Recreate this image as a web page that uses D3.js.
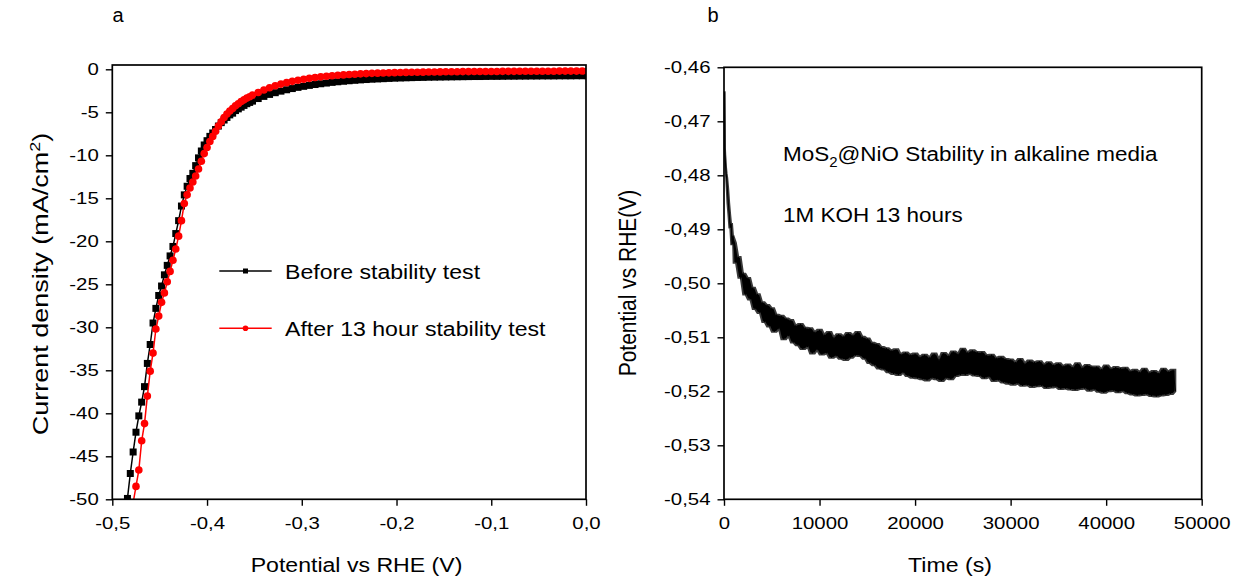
<!DOCTYPE html>
<html>
<head>
<meta charset="utf-8">
<script src="https://cdn.jsdelivr.net/npm/d3@7"></script>
<style>
body { margin: 0; background: #fff; }
svg text { font-family: "Liberation Sans", Arial, sans-serif; fill: #000; }
</style>
</head>
<body>
<svg id="fig" width="1245" height="588"></svg>
<script>
// ---- panel a : polarisation curves ----
var sweepPotential = [
  -0.487, -0.484, -0.481, -0.478, -0.475, -0.472, -0.469, -0.466, -0.463, -0.460,
  -0.457, -0.454, -0.451, -0.448, -0.445, -0.442, -0.439, -0.436, -0.433, -0.430,
  -0.427, -0.424, -0.421, -0.418, -0.415, -0.412, -0.409, -0.406, -0.403, -0.400,
  -0.397, -0.394, -0.391, -0.388, -0.385, -0.382, -0.379, -0.376, -0.373, -0.370,
  -0.367, -0.364, -0.361, -0.358, -0.355, -0.352,
  -0.346, -0.340, -0.334, -0.328, -0.322, -0.316, -0.310, -0.304, -0.298, -0.292,
  -0.286, -0.280, -0.274, -0.268, -0.262, -0.256, -0.250, -0.244, -0.238, -0.232,
  -0.226, -0.220, -0.214, -0.208, -0.202, -0.196, -0.190, -0.184, -0.178, -0.172,
  -0.166, -0.160, -0.154, -0.148, -0.142, -0.136, -0.130, -0.124, -0.118, -0.112,
  -0.106, -0.100, -0.094, -0.088, -0.082, -0.076, -0.070, -0.064, -0.058, -0.052,
  -0.046, -0.040, -0.034, -0.028, -0.022, -0.016, -0.010, -0.004, 0.002
];
var currentBefore = [
  -52.8, -49.9, -47.0, -44.5, -42.2, -40.3, -38.7, -36.9, -34.2, -32.0,
  -29.5, -27.8, -26.3, -25.2, -23.9, -22.8, -21.7, -20.6, -19.1, -17.6,
  -15.9, -14.6, -13.6, -12.7, -12.1, -11.2, -10.3, -9.5, -8.8, -8.3,
  -7.8, -7.4, -7.0, -6.6, -6.2, -5.9, -5.6, -5.3, -5.1, -4.8,
  -4.6, -4.4, -4.2, -4.0, -3.85, -3.7,
  -3.4, -3.15, -2.92, -2.72, -2.54, -2.38, -2.24, -2.1, -1.98, -1.87,
  -1.77, -1.68, -1.6, -1.52, -1.45, -1.39, -1.33, -1.28, -1.23, -1.19,
  -1.15, -1.12, -1.09, -1.06, -1.03, -1.01, -0.99, -0.97, -0.95, -0.94,
  -0.92, -0.91, -0.9, -0.89, -0.88, -0.87, -0.86, -0.85, -0.84, -0.84,
  -0.83, -0.82, -0.82, -0.81, -0.8, -0.8, -0.79, -0.79, -0.78, -0.78,
  -0.77, -0.77, -0.77, -0.76, -0.76, -0.76, -0.75, -0.75, -0.75
];
var currentAfter = [
  -58.0, -55.5, -53.0, -50.4, -48.5, -46.6, -43.2, -41.2, -38.0, -35.1,
  -33.0, -30.2, -28.7, -27.1, -26.0, -24.7, -23.5, -22.2, -20.9, -19.4,
  -17.6, -15.6, -14.6, -13.8, -13.1, -12.4, -11.6, -10.7, -9.8, -9.1,
  -8.4, -7.8, -7.2, -6.6, -6.1, -5.6, -5.2, -4.85, -4.55, -4.25,
  -4.0, -3.75, -3.55, -3.35, -3.2, -3.0,
  -2.7, -2.4, -2.14, -1.92, -1.72, -1.55, -1.4, -1.27, -1.15, -1.05,
  -0.96, -0.88, -0.81, -0.75, -0.7, -0.65, -0.61, -0.57, -0.53, -0.5,
  -0.47, -0.45, -0.43, -0.41, -0.39, -0.37, -0.36, -0.35, -0.34, -0.33,
  -0.32, -0.31, -0.3, -0.29, -0.29, -0.28, -0.27, -0.27, -0.26, -0.26,
  -0.25, -0.25, -0.25, -0.24, -0.24, -0.24, -0.23, -0.23, -0.23, -0.22,
  -0.22, -0.22, -0.22, -0.21, -0.21, -0.21, -0.21, -0.2, -0.2
];
var seriesNames = ["Before stability test", "After 13 hour stability test"];
var potentialTicks = [-0.5, -0.4, -0.3, -0.2, -0.1, 0.0];
var currentTicks = [0, -5, -10, -15, -20, -25, -30, -35, -40, -45, -50];

// ---- panel b : chronopotentiometry ----
var earlyTime = [60, 75, 90, 110, 140, 180, 220, 280, 350, 450, 550, 650, 750, 850, 950];
var earlyPotential = [-0.4646, -0.4690, -0.4750, -0.4762, -0.4772, -0.4785, -0.4796, -0.4805,
  -0.4825, -0.4851, -0.4872, -0.4897, -0.4890, -0.4928, -0.4912];
var traceStart = 1000, traceStep = 250;   // seconds, logger interval
var tracePotential = [
  -0.4925, -0.4962, -0.4951, -0.4990,  -0.4982, -0.5021, -0.4990, -0.5030,
  -0.5008, -0.5048, -0.5020, -0.5055,  -0.5035, -0.5072, -0.5040, -0.5080,
  -0.5046, -0.5090, -0.5058, -0.5085,  -0.5060, -0.5104, -0.5065, -0.5098,
  -0.5068, -0.5110, -0.5078, -0.5115,  -0.5075, -0.5122, -0.5082, -0.5118,
  -0.5083, -0.5130, -0.5090, -0.5124,  -0.5086, -0.5132, -0.5095, -0.5130,
  -0.5090, -0.5138, -0.5100, -0.5135,  -0.5094, -0.5140, -0.5098, -0.5142,
  -0.5092, -0.5138, -0.5096, -0.5134,  -0.5090, -0.5135, -0.5099, -0.5140,
  -0.5102, -0.5148, -0.5110, -0.5152,  -0.5112, -0.5158, -0.5118, -0.5160,
  -0.5120, -0.5165, -0.5124, -0.5168,  -0.5122, -0.5170, -0.5131, -0.5166,
  -0.5128, -0.5172, -0.5132, -0.5175,  -0.5130, -0.5176, -0.5136, -0.5178,
  -0.5132, -0.5180, -0.5137, -0.5176,  -0.5130, -0.5178, -0.5140, -0.5181,
  -0.5129, -0.5176, -0.5134, -0.5178,  -0.5126, -0.5172, -0.5130, -0.5170,
  -0.5121, -0.5170, -0.5128, -0.5168,  -0.5124, -0.5171, -0.5127, -0.5172,
  -0.5127, -0.5176, -0.5133, -0.5174,  -0.5132, -0.5181, -0.5138, -0.5180,
  -0.5136, -0.5184, -0.5140, -0.5186,  -0.5141, -0.5188, -0.5146, -0.5186,
  -0.5140, -0.5190, -0.5148, -0.5189,  -0.5143, -0.5192, -0.5146, -0.5191,
  -0.5144, -0.5190, -0.5150, -0.5194,  -0.5146, -0.5193, -0.5151, -0.5192,
  -0.5148, -0.5196, -0.5153, -0.5195,  -0.5150, -0.5197, -0.5155, -0.5198,
  -0.5148, -0.5196, -0.5156, -0.5195,  -0.5151, -0.5199, -0.5154, -0.5197,
  -0.5154, -0.5201, -0.5159, -0.5203,  -0.5152, -0.5200, -0.5158, -0.5199,
  -0.5155, -0.5202, -0.5157, -0.5200,  -0.5156, -0.5204, -0.5162, -0.5206,
  -0.5160, -0.5208, -0.5164, -0.5207,  -0.5158, -0.5206, -0.5165, -0.5209,
  -0.5162, -0.5210, -0.5166, -0.5208,  -0.5158, -0.5207, -0.5163, -0.5205,
  -0.5160, -0.5200
];
var timeTicks = [0, 10000, 20000, 30000, 40000, 50000];
var stabilityTicks = [-0.46, -0.47, -0.48, -0.49, -0.50, -0.51, -0.52, -0.53, -0.54];
var noteLines = ["Stability in alkaline media", "1M KOH 13 hours"];

var tickStretch = 1.2, textStretch = 1.1;
var svg = d3.select("#fig");

function comma(d, n) { return d.toFixed(n).replace(".", ","); }

function stretchText(sel, s) {
    sel.attr("transform", "scale(" + s + ",1)");
}

function drawAxes(g, x, y, box, xTicks, xMinor, yTicks, yMinor, xFmt, yFmt) {
    var ax = g.append("g").attr("transform", "translate(0," + box.y1 + ")");
    ax.call(d3.axisBottom(x).tickValues(xMinor).tickSize(3.5).tickFormat(""));
    ax.call(d3.axisBottom(x).tickValues(xTicks).tickSize(6.5).tickSizeOuter(0).tickFormat(xFmt));
    var ay = g.append("g").attr("transform", "translate(" + box.x0 + ",0)");
    ay.call(d3.axisLeft(y).tickValues(yMinor).tickSize(3.5).tickFormat(""));
    ay.call(d3.axisLeft(y).tickValues(yTicks).tickSize(6.5).tickSizeOuter(0).tickFormat(yFmt));
    [ax, ay].forEach(function (a) {
        a.selectAll(".domain").remove();
        a.selectAll("line").attr("stroke", "#000").attr("stroke-width", 1.4);
        a.selectAll("text").style("font-size", "17px").attr("fill", "#000");
    });
    ax.selectAll("text").attr("y", 29.7).attr("dy", 0).call(stretchText, tickStretch);
    ay.selectAll("text").attr("x", -13.5 / tickStretch).call(stretchText, tickStretch);

    g.append("rect")
        .attr("x", box.x0).attr("y", box.y0)
        .attr("width", box.x1 - box.x0).attr("height", box.y1 - box.y0)
        .attr("fill", "none").attr("stroke", "#000").attr("stroke-width", 1.7);
}

function label(g, x, y, txt, size, rot, stretch) {
    var t = g.append("text")
        .attr("transform", "translate(" + x + "," + y + ") scale(" + stretch + ",1)" + (rot ? " rotate(-90)" : ""))
        .attr("text-anchor", "middle")
        .style("font-size", size + "px");
    return t.text(txt);
}

// ===== panel a =====
var boxA = {x0: 112.3, x1: 586, y0: 65, y1: 499.3};
var xA = d3.scaleLinear().domain([-0.5, 0]).range([boxA.x0, boxA.x1]);
var yA = d3.scaleLinear().domain([-50, 0.5]).range([boxA.y1, boxA.y0]);
var gA = svg.append("g");

gA.append("clipPath").attr("id", "clipA").append("rect")
    .attr("x", boxA.x0).attr("y", boxA.y0)
    .attr("width", boxA.x1 - boxA.x0).attr("height", boxA.y1 - boxA.y0);

var ptsBefore = sweepPotential.map(function (v, i) { return [v, currentBefore[i]]; });
var ptsAfter = sweepPotential.map(function (v, i) { return [v, currentAfter[i]]; });
var lineA = d3.line().x(function (d) { return xA(d[0]); }).y(function (d) { return yA(d[1]); });

var plotA = gA.append("g").attr("clip-path", "url(#clipA)");
plotA.append("path").datum(ptsBefore).attr("d", lineA)
    .attr("fill", "none").attr("stroke", "#000").attr("stroke-width", 1.5);
plotA.selectAll("rect.sq").data(ptsBefore).enter().append("rect")
    .attr("class", "sq")
    .attr("x", function (d) { return xA(d[0]) - 3.5; })
    .attr("y", function (d) { return yA(d[1]) - 3.5; })
    .attr("width", 7).attr("height", 7).attr("fill", "#000");
plotA.append("path").datum(ptsAfter).attr("d", lineA)
    .attr("fill", "none").attr("stroke", "#ff0000").attr("stroke-width", 1.5);
plotA.selectAll("circle.rd").data(ptsAfter).enter().append("circle")
    .attr("class", "rd")
    .attr("cx", function (d) { return xA(d[0]); })
    .attr("cy", function (d) { return yA(d[1]); })
    .attr("r", 3.8).attr("fill", "#ff0000");

drawAxes(gA, xA, yA, boxA, potentialTicks, [-0.45, -0.35, -0.25, -0.15, -0.05],
    currentTicks, [-2.5, -7.5, -12.5, -17.5, -22.5, -27.5, -32.5, -37.5, -42.5, -47.5],
    function (d) { return comma(d, 1); }, function (d) { return String(d); });

// legend
var legY = [271, 328.3];
legY.forEach(function (ly, i) {
    var col = i === 0 ? "#000" : "#ff0000";
    gA.append("line").attr("x1", 219.3).attr("x2", 271.7).attr("y1", ly).attr("y2", ly)
        .attr("stroke", col).attr("stroke-width", 1.5);
    if (i === 0) {
        gA.append("rect").attr("x", 243).attr("y", ly - 2.5).attr("width", 5).attr("height", 5).attr("fill", col);
    } else {
        gA.append("circle").attr("cx", 245.5).attr("cy", ly).attr("r", 2.8).attr("fill", col);
    }
    gA.append("text")
        .attr("transform", "translate(285," + (ly + 7.5) + ") scale(" + textStretch + ",1)")
        .style("font-size", "21px")
        .text(seriesNames[i]);
});

label(gA, 356.5, 572, "Potential vs RHE (V)", 21, false, textStretch);
var yt = label(gA, 48, 284, "Current density (mA/cm", 27, true, 0.85);
yt.append("tspan").attr("dy", -10).style("font-size", "18px").text("2");
yt.append("tspan").attr("dy", 10).text(")");
svg.append("text").attr("x", 118).attr("y", 22).attr("text-anchor", "middle")
    .style("font-size", "20px").text("a");

// ===== panel b =====
var boxB = {x0: 724, x1: 1201.7, y0: 67.3, y1: 499.3};
var xB = d3.scaleLinear().domain([0, 50000]).range([boxB.x0, boxB.x1]);
var yB = d3.scaleLinear().domain([-0.54, -0.46]).range([boxB.y1, boxB.y0]);
var gB = svg.append("g");

var trace = earlyTime.map(function (t, i) { return [t, earlyPotential[i]]; })
    .concat(tracePotential.map(function (v, i) { return [traceStart + i * traceStep, v]; }));

// noise envelope: local max / min of neighbouring readings
var band = trace.map(function (d, i) {
    var w = trace.slice(Math.max(0, i - 1), i + 2).map(function (p) { return p[1]; });
    return [d[0], d3.min(w), d3.max(w)];
});

gB.append("path").datum(band)
    .attr("d", d3.area()
        .x(function (d) { return xB(d[0]); })
        .y0(function (d) { return yB(d[1]); })
        .y1(function (d) { return yB(d[2]); }))
    .attr("fill", "#000").attr("stroke", "#3a3a3a").attr("stroke-width", 1.8)
    .attr("stroke-linejoin", "miter");

gB.append("path").datum(trace)
    .attr("d", d3.line().x(function (d) { return xB(d[0]); }).y(function (d) { return yB(d[1]); }))
    .attr("fill", "none").attr("stroke", "#000").attr("stroke-width", 1.1);

drawAxes(gB, xB, yB, boxB, timeTicks, [5000, 15000, 25000, 35000, 45000],
    stabilityTicks, [-0.465, -0.475, -0.485, -0.495, -0.505, -0.515, -0.525, -0.535],
    function (d) { return String(d); }, function (d) { return comma(d, 2); });

var note = gB.append("text")
    .attr("transform", "translate(783,160.7) scale(" + 1.07 + ",1)")
    .style("font-size", "21px");
note.append("tspan").text("MoS");
note.append("tspan").attr("dy", 6).style("font-size", "14px").text("2");
note.append("tspan").attr("dy", -6).text("@NiO " + noteLines[0]);
gB.append("text")
    .attr("transform", "translate(783,222.3) scale(" + 1.07 + ",1)")
    .style("font-size", "21px")
    .text(noteLines[1]);

label(gB, 950, 572, "Time (s)", 21, false, textStretch);
label(gB, 636, 283, "Potential vs RHE(V)", 21, true, textStretch);
svg.append("text").attr("x", 713).attr("y", 22).attr("text-anchor", "middle")
    .style("font-size", "20px").text("b");
</script>
</body>
</html>
